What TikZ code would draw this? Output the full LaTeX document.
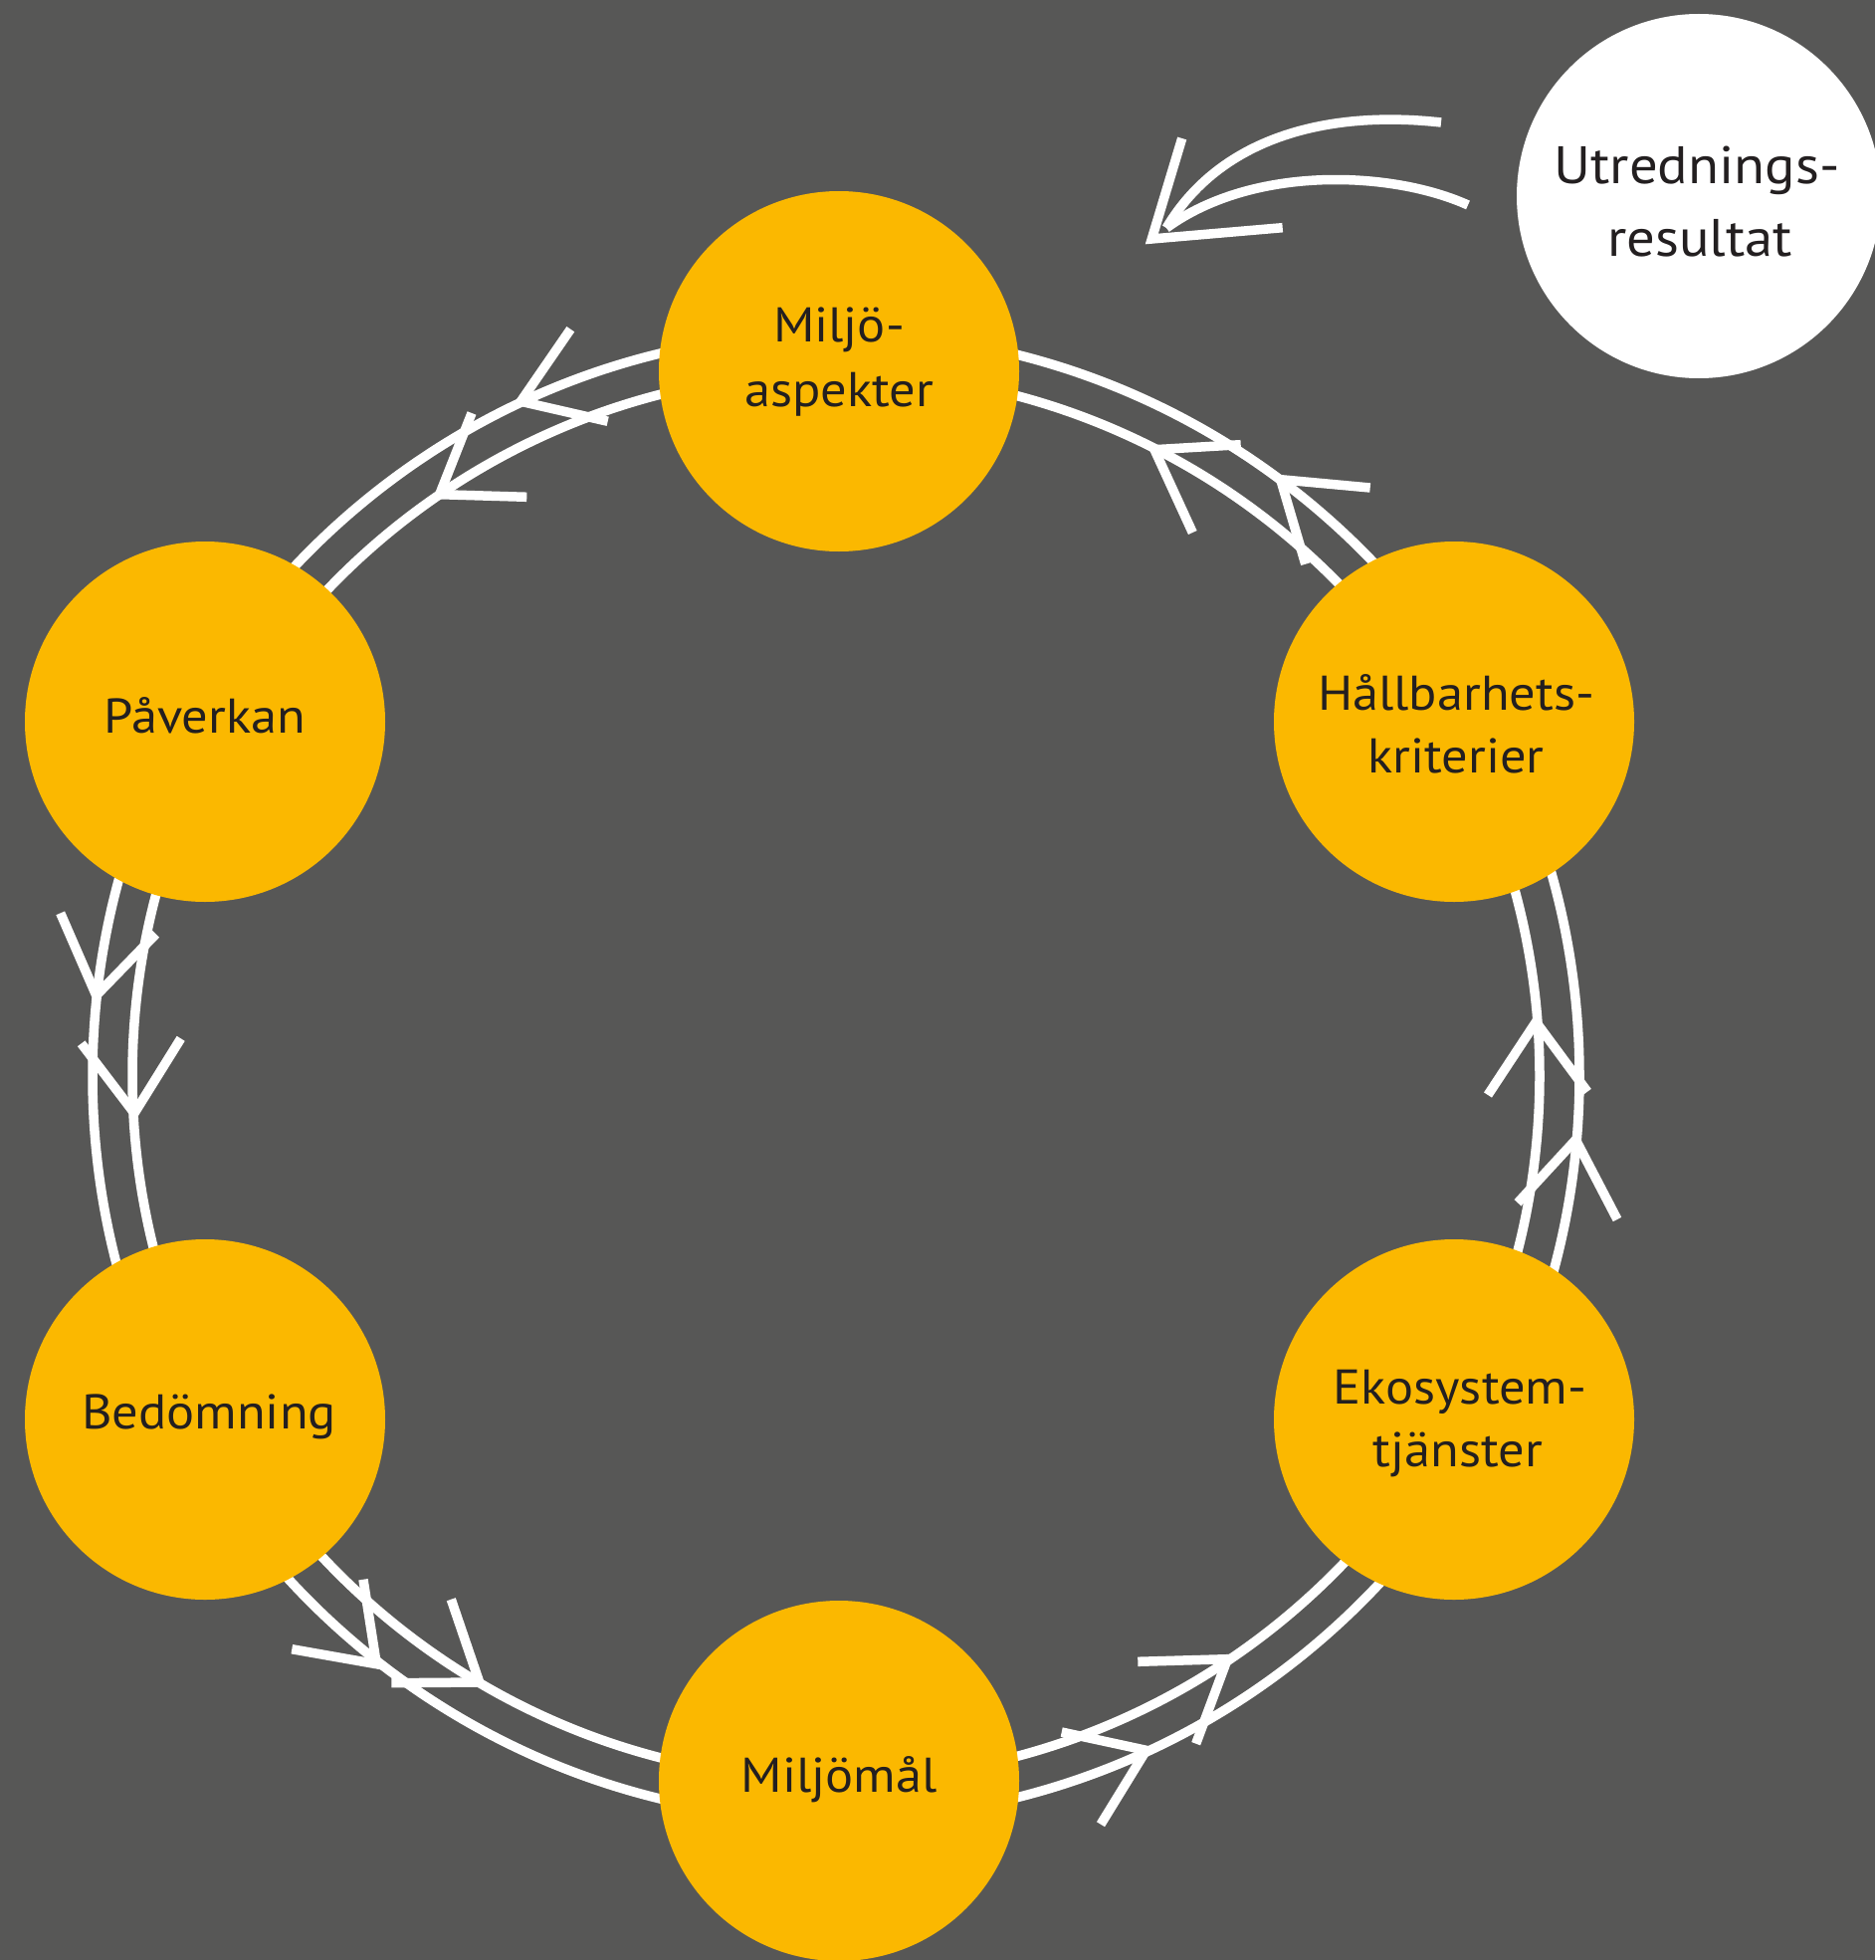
\documentclass[tikz,border=0pt]{standalone}
\usepackage{fontspec}
\setmainfont{PT Sans}[FakeStretch=1.07]
\definecolor{bg}{HTML}{575756}
\definecolor{gold}{HTML}{FBB800}
\definecolor{ink}{HTML}{231F20}
\begin{document}
\begin{tikzpicture}[x=1pt,y=-1pt,
  wl/.style={draw=white,line width=9.5pt,line cap=butt},
  tip/.style={wl,line join=miter},
  topic/.style={circle,fill=gold,minimum size=362pt,inner sep=0pt},
  result/.style={circle,fill=white,minimum size=366pt,inner sep=0pt},
  lbl/.style={anchor=base,inner sep=0pt,text=ink,font=\fontsize{49}{58}\selectfont},
  ulbl/.style={anchor=base,inner sep=0pt,text=ink,font=\fontsize{53}{60}\selectfont}]
\fill[bg] (0,0) rectangle (1884,1969);
\useasboundingbox (0,0) rectangle (1884,1969);
% ring
\coordinate (c) at (840,1081);
\draw[wl] (c) circle[radius=747pt];
\draw[wl] (c) circle[radius=707pt];
% arrowheads on the ring
\draw[tip] (573.3,330.7) -- (523.3,403.3) -- (610.7,423.3);
\draw[tip] (474,415) -- (441.7,496.7) -- (529.3,499.3);
\draw[tip] (1246.7,446.7) -- (1160,451.7) -- (1198.3,535);
\draw[tip] (1376.7,490) -- (1286.7,481.7) -- (1311.7,566.7);
\draw[tip] (1495,1100) -- (1543.3,1026.7) -- (1595,1096.7);
\draw[tip] (1525,1208.3) -- (1583.3,1145) -- (1625,1225);
\draw[tip] (60.7,917.3) -- (96.7,1000) -- (156.7,938.3);
\draw[tip] (81.7,1048.3) -- (135,1118.3) -- (181.7,1043.3);
\draw[tip] (293.3,1656.7) -- (378.3,1671.7) -- (365,1586.7);
\draw[tip] (393.3,1690.7) -- (481.7,1690) -- (453.3,1606.7);
\draw[tip] (1143.3,1669.3) -- (1233.3,1666.7) -- (1201.7,1751.7);
\draw[tip] (1066.7,1740) -- (1151.7,1758.3) -- (1106,1832.7);
% topic circles
\node[topic] (mil) at (843,373) {};
\node[topic] (hal) at (1461,725) {};
\node[topic] (eko) at (1461,1426) {};
\node[topic] (mal) at (843,1789) {};
\node[topic] (bed) at (206,1426) {};
\node[topic] (pav) at (206,725) {};
% labels
\node[lbl] (mil1) at (843,343) {Miljö-};
\node[lbl] (mil2) at (843,408) {aspekter};
\node[lbl] (hal1) at (1463,713) {Hållbarhets-};
\node[lbl] (hal2) at (1463,776) {kriterier};
\node[lbl] (eko1) at (1467,1410) {Ekosystem-};
\node[lbl] (eko2) at (1465,1473) {tjänster};
\node[lbl] (mal1) at (843,1800) {Miljömål};
\node[lbl] (bed1) at (210,1435) {Bedömning};
\node[lbl] (pav1) at (206,736) {Påverkan};
% result circle
\node[result] (utr) at (1707,197) {};
\node[ulbl] (utr1) at (1705,185) {Utrednings-};
\node[ulbl] (utr2) at (1708,258) {resultat};
% incoming arrow
\coordinate (ua) at (1448,123);
\coordinate (ub) at (1475,206);
\coordinate (uend) at (1172,229);
\draw[wl] (ua) .. controls (1330,110) and (1225,140) .. (uend);
\draw[wl] (ub) .. controls (1400,172) and (1260,165) .. (uend);
\draw[tip] (1187.7,139) -- (1157.3,240) -- (1288.7,228.7);
\end{tikzpicture}
\end{document}
